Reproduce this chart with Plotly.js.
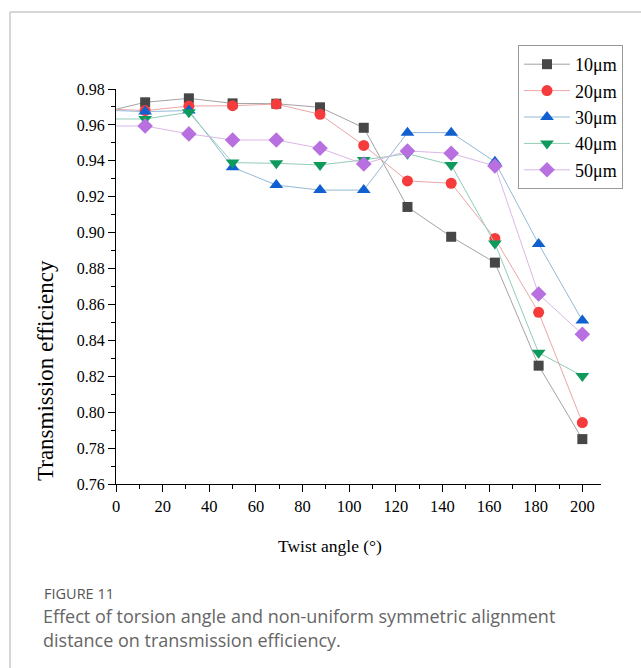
<!DOCTYPE html>
<html>
<head>
<meta charset="utf-8">
<script src="https://cdn.plot.ly/plotly-3.0.1.min.js"></script>
<style>
html,body{margin:0;padding:0;background:#fff;}
#chart{width:641px;height:668px;}
</style>
</head>
<body>
<div id="chart"></div>
<script>
// ---- data ----
const twistAngle = [12.5, 31.25, 50, 68.75, 87.5, 106.25, 125, 143.75, 162.5, 181.25, 200];
const startAngle = 0;
const seriesNames = ["10μm", "20μm", "30μm", "40μm", "50μm"];
const eff10 = [0.9726, 0.9748, 0.9720, 0.9718, 0.9698, 0.9584, 0.9143, 0.8977, 0.8833, 0.8259, 0.7850];
const eff20 = [0.9680, 0.9705, 0.9707, 0.9716, 0.9659, 0.9486, 0.9288, 0.9275, 0.8968, 0.8556, 0.7942];
const eff30 = [0.9674, 0.9680, 0.9364, 0.9265, 0.9237, 0.9237, 0.9557, 0.9557, 0.9395, 0.8937, 0.8510];
const eff40 = [0.9633, 0.9670, 0.9390, 0.9386, 0.9377, 0.9405, 0.9440, 0.9377, 0.8940, 0.8331, 0.8202];
const eff50 = [0.9594, 0.9550, 0.9516, 0.9516, 0.9470, 0.9382, 0.9455, 0.9442, 0.9371, 0.8658, 0.8434];
const startEff = [0.9687, 0.9687, 0.9680, 0.9633, 0.9594];
const xTickVals = [0, 20, 40, 60, 80, 100, 120, 140, 160, 180, 200];
const yTickVals = [0.76, 0.78, 0.80, 0.82, 0.84, 0.86, 0.88, 0.90, 0.92, 0.94, 0.96, 0.98];
const xTitle = "Twist angle (°)";
const yTitle = "Transmission efficiency";
const figLabel = "FIGURE 11";
const captionLines = ["Effect of torsion angle and non-uniform symmetric alignment", "distance on transmission efficiency."];

const allEff = [eff10, eff20, eff30, eff40, eff50];
const markerColors = ["#474747", "#f53b3b", "#1060d0", "#0e9a5c", "#b86fe0"];
const lineColors = ["#a3a3a3", "#eba6a6", "#92b9d8", "#92cdb7", "#dab7e8"];
const symbols = ["square", "circle", "triangle-up", "triangle-down", "diamond"];
const sizes = [10, 11, 12, 12, 12];

const traces = [];
allEff.forEach((ys, i) => {
  traces.push({
    x: [startAngle, twistAngle[0]], y: [startEff[i], ys[0]],
    mode: "lines", type: "scatter", showlegend: false, hoverinfo: "skip",
    line: {color: lineColors[i], width: 1}
  });
});
allEff.forEach((ys, i) => {
  traces.push({
    x: twistAngle, y: ys, name: seriesNames[i],
    mode: "lines+markers", type: "scatter",
    line: {color: lineColors[i], width: 1},
    marker: {color: markerColors[i], symbol: symbols[i], size: sizes[i], line: {width: 0}}
  });
});

const L = 116, R = 601, T = 89, B = 484;
const W = 641, H = 668;
function px(x){ return (x - L) / (R - L); }
function py(y){ return (B - y) / (B - T); }

const serif = "Liberation Serif, Times New Roman, serif";
const sans = "Open Sans, Noto Sans, sans-serif";

const layout = {
  width: W, height: H,
  margin: {l: L, r: W - R, t: T, b: H - B, pad: 0},
  paper_bgcolor: "#fff", plot_bgcolor: "#fff",
  showlegend: true,
  xaxis: {
    range: [0, 208], tickvals: xTickVals, ticktext: xTickVals.map(String),
    showgrid: false, zeroline: false, showline: true, linecolor: "#000", linewidth: 1,
    ticks: "outside", ticklen: 7, tickwidth: 1, tickcolor: "#000",
    minor: {ticks: "outside", ticklen: 4, tickwidth: 1, tickcolor: "#000", dtick: 10, showgrid: false},
    tickfont: {family: serif, size: 16.5, color: "#000"},
    fixedrange: true
  },
  yaxis: {
    range: [0.76, 0.98], tickvals: yTickVals, ticktext: yTickVals.map(v => v.toFixed(2)),
    showgrid: false, zeroline: false, showline: true, linecolor: "#000", linewidth: 1,
    ticks: "outside", ticklen: 7, tickwidth: 1, tickcolor: "#000",
    minor: {ticks: "outside", ticklen: 4, tickwidth: 1, tickcolor: "#000", dtick: 0.01, showgrid: false},
    tickfont: {family: serif, size: 16, color: "#000"},
    fixedrange: true
  },
  legend: {
    x: px(518), y: py(45), xanchor: "left", yanchor: "top",
    bordercolor: "#999", borderwidth: 1, bgcolor: "#fff",
    font: {family: serif, size: 18, color: "#000"},
    tracegroupgap: 0, itemwidth: 46
  },
  shapes: [
    {type: "line", xref: "paper", yref: "paper", x0: px(10), x1: px(10), y0: py(12), y1: py(668), line: {color: "#c8c8c8", width: 1.5}},
    {type: "line", xref: "paper", yref: "paper", x0: px(10), x1: px(641), y0: py(12), y1: py(12), line: {color: "#c8c8c8", width: 1.5}}
  ],
  annotations: [
    {xref: "paper", yref: "paper", x: px(45), y: py(371), xanchor: "center", yanchor: "middle", showarrow: false,
     textangle: -90, text: yTitle, font: {family: serif, size: 23, color: "#000"}},
    {xref: "paper", yref: "paper", x: px(330), y: py(546), xanchor: "center", yanchor: "middle", showarrow: false,
     text: xTitle, font: {family: serif, size: 17.5, color: "#000"}},
    {xref: "paper", yref: "paper", x: px(42), y: py(593), xanchor: "left", yanchor: "middle", showarrow: false,
     text: figLabel, font: {family: sans, size: 14.5, color: "#555"}},
    {xref: "paper", yref: "paper", x: px(41), y: py(616), xanchor: "left", yanchor: "middle", showarrow: false,
     text: captionLines[0], font: {family: sans, size: 18, color: "#666"}},
    {xref: "paper", yref: "paper", x: px(41), y: py(640), xanchor: "left", yanchor: "middle", showarrow: false,
     text: captionLines[1], font: {family: sans, size: 18, color: "#666"}}
  ]
};

Plotly.newPlot("chart", traces, layout, {displayModeBar: false, staticPlot: true});
</script>
</body>
</html>
